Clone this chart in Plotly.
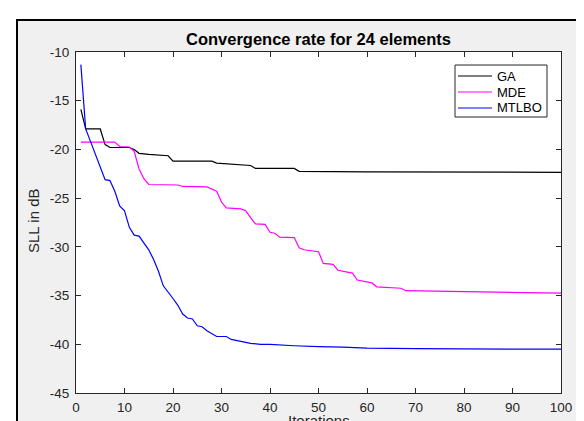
import plotly.graph_objects as go

# ---- data ----
ga_iter = [1, 2, 5, 6, 7, 11, 12, 13, 15, 19, 20, 28, 29, 33, 36, 37, 45, 46, 60, 100]
ga_sll = [-15.9, -17.9, -17.9, -19.5, -19.8, -19.8, -20.0, -20.4, -20.5, -20.65,
          -21.2, -21.2, -21.4, -21.5, -21.65, -21.95, -21.95, -22.25, -22.3, -22.35]

mde_iter = [1, 8, 9, 11, 12, 13, 14, 15, 21, 22, 27, 28, 29, 30, 31, 34, 35, 36, 37, 39,
            40, 41, 42, 45, 46, 47, 49, 50, 51, 53, 54, 56, 57, 58, 60, 61, 62, 67, 68,
            75, 85, 100]
mde_sll = [-19.25, -19.25, -19.7, -19.75, -20.2, -22.0, -23.0, -23.6, -23.65, -23.8,
           -23.85, -24.1, -24.3, -25.4, -26.0, -26.1, -26.3, -27.0, -27.65, -27.7,
           -28.5, -28.6, -29.0, -29.05, -30.1, -30.3, -30.4, -30.5, -31.7, -31.8,
           -32.4, -32.6, -32.7, -33.4, -33.6, -33.7, -34.1, -34.25, -34.5,
           -34.55, -34.65, -34.75]

mtlbo_iter = [1, 2, 3, 4, 5, 6, 7, 8, 9, 10, 11, 12, 13, 14, 15, 16, 17, 18, 19, 20,
              21, 22, 23, 24, 25, 26, 27, 28, 29, 30, 31, 32, 33, 34, 35, 36, 38, 40,
              45, 48, 50, 55, 60, 70, 80, 90, 100]
mtlbo_sll = [-11.3, -17.9, -19.2, -20.5, -21.6, -23.1, -23.2, -24.3, -25.8, -26.3,
             -28.0, -28.8, -28.9, -29.6, -30.3, -31.3, -32.5, -34.0, -34.6, -35.3,
             -36.0, -36.9, -37.3, -37.4, -38.1, -38.2, -38.6, -38.9, -39.2, -39.2,
             -39.2, -39.5, -39.6, -39.7, -39.8, -39.9, -40.0, -40.0,
             -40.15, -40.25, -40.25, -40.3, -40.4, -40.45, -40.5, -40.5, -40.5]

series_names = ["GA", "MDE", "MTLBO"]
series_colors = ["#000000", "#ff00ff", "#0000ff"]

x_ticks = [0, 10, 20, 30, 40, 50, 60, 70, 80, 90, 100]
y_ticks = [-45, -40, -35, -30, -25, -20, -15, -10]

# ---- geometry ----
W, H = 584, 421
L, R, T, B = 68, 553, 44, 385
pw, ph = R - L, B - T


def px(x):
    return (x - L) / pw


def py(y):
    return (B - y) / ph


axis_col = "#262626"
font_fam = "Liberation Sans, Arial, sans-serif"

fig = go.Figure()
for xs, ys, nm, col in zip([ga_iter, mde_iter, mtlbo_iter], [ga_sll, mde_sll, mtlbo_sll],
                           series_names, series_colors):
    fig.add_trace(go.Scatter(x=xs, y=ys, mode="lines", name=nm, showlegend=False,
                             line=dict(color=col, width=1.2)))

axis_common = dict(showgrid=False, zeroline=False, showline=True, linecolor=axis_col,
                   linewidth=1, mirror="ticks", ticks="inside", ticklen=5,
                   tickcolor=axis_col, tickwidth=1,
                   tickfont=dict(family=font_fam, size=13.5, color=axis_col))

fig.update_xaxes(range=[0, 100], tickvals=x_ticks, ticktext=[str(v) for v in x_ticks],
                 ticklabelstandoff=2, **axis_common)
fig.update_yaxes(range=[-45, -10], tickvals=y_ticks, ticktext=[str(v) for v in y_ticks],
                 ticklabelstandoff=3, **axis_common)

shapes = [
    # white strip on top and left (outside the figure frame)
    dict(type="rect", xref="paper", yref="paper", x0=px(-10), x1=px(W + 10),
         y0=py(11), y1=py(-10), fillcolor="white", line=dict(width=0), layer="below"),
    dict(type="rect", xref="paper", yref="paper", x0=px(-10), x1=px(8),
         y0=py(H + 10), y1=py(-10), fillcolor="white", line=dict(width=0), layer="below"),
    # black frame edges
    dict(type="line", xref="paper", yref="paper", x0=px(8), x1=px(W + 10),
         y0=py(12), y1=py(12), line=dict(color="black", width=2)),
    dict(type="line", xref="paper", yref="paper", x0=px(9), x1=px(9),
         y0=py(11), y1=py(H + 10), line=dict(color="black", width=2)),
    # legend box
    dict(type="rect", xref="paper", yref="paper", x0=px(447), x1=px(539),
         y0=py(109), y1=py(57), fillcolor="white", line=dict(color=axis_col, width=1)),
]

annotations = [
    dict(text="SLL in dB", xref="paper", yref="paper", x=px(25), y=py(213),
         textangle=-90, showarrow=False, xanchor="center", yanchor="middle",
         font=dict(family=font_fam, size=15, color=axis_col)),
    dict(text="Iterations", xref="paper", yref="paper", x=0.5, y=py(402),
         showarrow=False, xanchor="center", yanchor="top",
         font=dict(family=font_fam, size=15, color=axis_col)),
]

# legend entries (line sample + label)
for i, (nm, col) in enumerate(zip(series_names, series_colors)):
    yy = 68 + 16 * i
    shapes.append(dict(type="line", xref="paper", yref="paper", x0=px(450), x1=px(484),
                       y0=py(yy), y1=py(yy), line=dict(color=col, width=1.2)))
    annotations.append(dict(text=nm, xref="paper", yref="paper", x=px(487), y=py(yy),
                            showarrow=False, xanchor="left", yanchor="middle",
                            font=dict(family=font_fam, size=13, color="black")))

fig.update_layout(
    width=W, height=H,
    margin=dict(l=L, r=W - R, t=T, b=H - B, pad=0),
    paper_bgcolor="#f0f0f0", plot_bgcolor="white",
    title=dict(text="<b>Convergence rate for 24 elements</b>", x=0.5, xref="paper",
               y=1 - 31 / H, yref="container", xanchor="center", yanchor="middle",
               font=dict(family=font_fam, size=16.5, color="black")),
    shapes=shapes, annotations=annotations, showlegend=False,
)

fig.write_html("out.html", config=dict(displayModeBar=False))
